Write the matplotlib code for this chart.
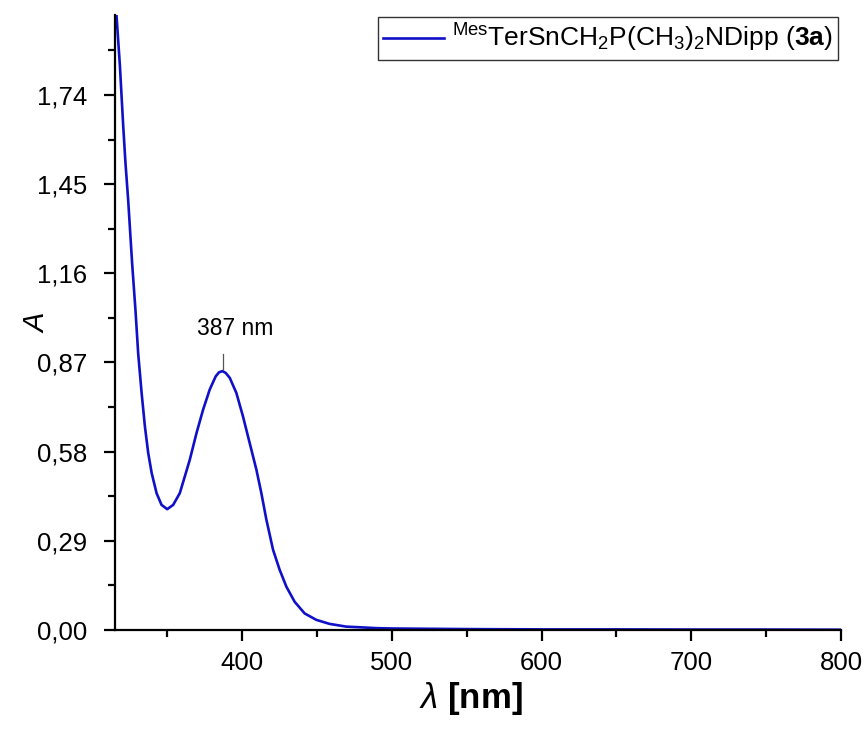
import matplotlib
matplotlib.use("Agg")
import matplotlib.pyplot as plt
from matplotlib.ticker import FixedLocator, MultipleLocator

plt.rcParams["font.family"] = ["Liberation Sans", "DejaVu Sans"]
plt.rcParams["mathtext.fontset"] = "custom"
plt.rcParams["mathtext.rm"] = "Liberation Sans"
plt.rcParams["mathtext.it"] = "Liberation Sans:italic"
plt.rcParams["mathtext.bf"] = "Liberation Sans:bold"

# spectrum
wavelength = [315, 316, 318.3, 320.5, 322, 323.8, 326.5, 328.7, 330.5, 332.8, 335,
              337.2, 339.5, 342.8, 346.1, 349.9, 353.9, 358.3, 361.7, 365, 369.5,
              373.9, 378.3, 382.3, 384.5, 386.8, 389, 391.7, 396.1, 400.5, 405,
              409.5, 412.8, 416.1, 420.6, 425, 429.5, 435, 441.7, 449.5, 458.3,
              469.5, 478.3, 490, 500, 525, 550, 575, 600, 650, 700, 750, 800]
absorbance = [2.04, 2.00, 1.835, 1.64, 1.52, 1.40, 1.19, 1.04, 0.90, 0.771, 0.662,
              0.576, 0.511, 0.445, 0.407, 0.393, 0.407, 0.445, 0.500, 0.554, 0.641,
              0.717, 0.782, 0.825, 0.838, 0.842, 0.836, 0.820, 0.771, 0.695, 0.608,
              0.521, 0.445, 0.360, 0.261, 0.196, 0.141, 0.092, 0.054, 0.033, 0.020,
              0.011, 0.009, 0.006, 0.005, 0.004, 0.003, 0.0025, 0.002, 0.002, 0.0015,
              0.0015, 0.001]

peak_nm = 387
peak_A = 0.842
y_ticks = [0.00, 0.29, 0.58, 0.87, 1.16, 1.45, 1.74]
x_ticks = [400, 500, 600, 700, 800]
legend_label = r"$^{\mathrm{Mes}}$TerSnCH$_2$P(CH$_3$)$_2$NDipp ($\mathbf{3a}$)"

fig = plt.figure(figsize=(8.67, 7.33), dpi=100)
ax = fig.add_axes([0.1326, 0.1405, 0.8374, 0.839])

ax.plot(wavelength, absorbance, color="#1010c8", lw=1.9, label=legend_label,
        solid_joinstyle="round")

# peak marker
ax.plot([peak_nm, peak_nm], [peak_A + 0.008, peak_A + 0.055], color="#555555", lw=0.9)
ax.text(peak_nm + 8, peak_A + 0.1, f"{peak_nm} nm", ha="center", va="bottom", fontsize=16.5)

ax.set_xlim(315, 800)
ax.set_ylim(0, 2.0)
ax.xaxis.set_major_locator(FixedLocator(x_ticks))
ax.xaxis.set_minor_locator(MultipleLocator(50))
ax.yaxis.set_major_locator(FixedLocator(y_ticks))
ax.yaxis.set_minor_locator(FixedLocator([0.145 + 0.29 * i for i in range(7)]))
ax.set_yticklabels([f"{v:.2f}".replace(".", ",") for v in y_ticks])

for side in ("top", "right"):
    ax.spines[side].set_visible(False)
for side in ("left", "bottom"):
    ax.spines[side].set_linewidth(1.6)
ax.tick_params(which="major", direction="out", length=8, width=1.6, labelsize=18.5)
ax.tick_params(which="minor", direction="out", length=5, width=1.6)
ax.tick_params(axis="x", pad=7)
ax.tick_params(axis="y", pad=12)

ax.set_xlabel(r"$\lambda$ $\mathbf{[nm]}$", fontsize=25)
ax.set_ylabel(r"$A$", fontsize=21)
ax.xaxis.set_label_coords(0.49, -0.081)
ax.yaxis.set_label_coords(-0.089, 0.5)

leg = ax.legend(loc="upper right", bbox_to_anchor=(838 / 867, 1 - 17 / 733),
                bbox_transform=fig.transFigure, borderaxespad=0, fontsize=19,
                fancybox=False, framealpha=1, handlelength=2.3, borderpad=0.2,
                handletextpad=0.3)
leg.get_frame().set_edgecolor("#333333")
leg.get_frame().set_linewidth(1.0)

fig.savefig("out.png", dpi=100)
